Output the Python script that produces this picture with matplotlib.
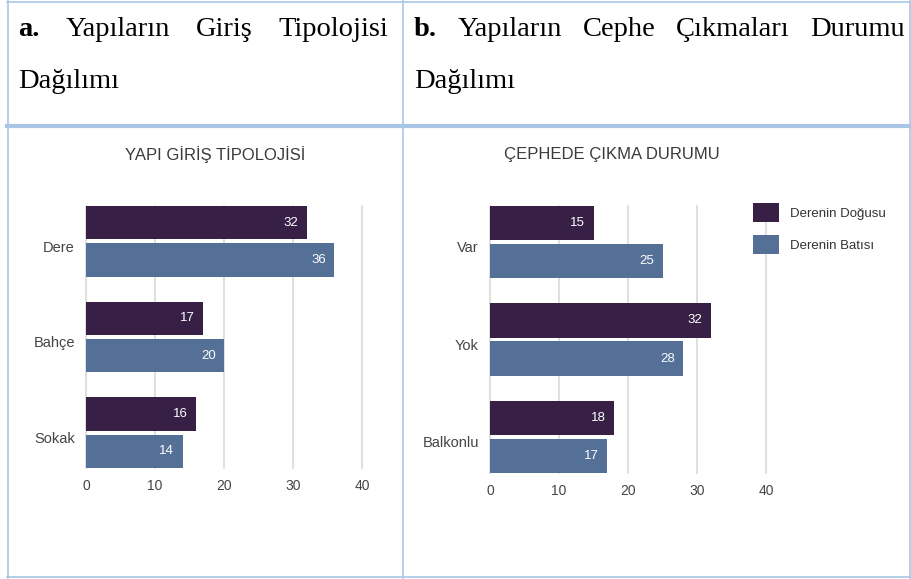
import matplotlib
matplotlib.use('Agg')
import matplotlib.pyplot as plt
from matplotlib.lines import Line2D
import numpy as np

# ---------------- data ----------------
categories_a = ['Dere', 'Bahçe', 'Sokak']
east_a = [32, 17, 16]
west_a = [36, 20, 14]
categories_b = ['Var', 'Yok', 'Balkonlu']
east_b = [15, 32, 18]
west_b = [25, 28, 17]
series_names = ['Derenin Doğusu', 'Derenin Batısı']
x_ticks = [0, 10, 20, 30, 40]
title_a = 'YAPI GİRİŞ TİPOLOJİSİ'
title_b = 'ÇEPHEDE ÇIKMA DURUMU'
header_a = ['a.', 'Yapıların', 'Giriş', 'Tipolojisi']
header_b = ['b.', 'Yapıların', 'Cephe', 'Çıkmaları', 'Durumu']
header_line2 = 'Dağılımı'

# ---------------- style ----------------
W, H = 911, 579
DARK = '#371f45'
BLUE = '#547096'
GRID = '#dadada'
BORDER = '#a9c6e6'
SANS = 'Liberation Sans'
SERIF = 'Liberation Serif'

fig = plt.figure(figsize=(W / 100, H / 100), dpi=100)


def fx(x):
    return x / W


def fy(y):
    return 1 - y / H


def hline(x0, x1, y, lw):
    fig.add_artist(Line2D([fx(x0), fx(x1)], [fy(y), fy(y)], color=BORDER, lw=lw,
                          transform=fig.transFigure))


def vline(x, y0, y1, lw):
    fig.add_artist(Line2D([fx(x), fx(x)], [fy(y0), fy(y1)], color=BORDER, lw=lw,
                          transform=fig.transFigure))


# table borders
hline(7, 910, 1.5, 1.2)
hline(7, 910, 125.5, 3.0)
hline(7, 910, 577, 1.2)
vline(7.5, 1, 578, 1.2)
vline(403, 1, 578, 1.2)
vline(909.5, 1, 578, 1.2)

# header text (justified first line)
renderer = fig.canvas.get_renderer()
HFS = 20.5


def justified(words, x0, x1, ybase):
    texts = []
    for i, wd in enumerate(words):
        t = fig.text(0, fy(ybase), wd, fontsize=HFS, family=SERIF,
                     fontweight='bold' if i == 0 else 'normal', va='baseline', ha='left',
                     color='black')
        texts.append(t)
    widths = [t.get_window_extent(renderer).width for t in texts]
    gap = (x1 - x0 - sum(widths)) / (len(words) - 1)
    x = x0
    for t, w in zip(texts, widths):
        t.set_x(fx(x))
        x += w + gap


justified(header_a, 18, 388, 36)
justified(header_b, 414, 905, 36)
fig.text(fx(18), fy(88), header_line2, fontsize=HFS, family=SERIF, va='baseline', ha='left')
fig.text(fx(414), fy(88), header_line2, fontsize=HFS, family=SERIF, va='baseline', ha='left')


def chart(l, t, r, b, cats, east, west, title, tx):
    ax = fig.add_axes([fx(l), fy(b), fx(r - l), (b - t) / H])
    y = np.arange(len(cats))
    h, off = 0.35, 0.195
    b1 = ax.barh(y - off, east, height=h, color=DARK, zorder=3)
    b2 = ax.barh(y + off, west, height=h, color=BLUE, zorder=3)
    for bars, vals in ((b1, east), (b2, west)):
        for rect, v in zip(bars, vals):
            ax.annotate(str(v), (v, rect.get_y() + rect.get_height() / 2), xytext=(-6, 0),
                        textcoords='offset points', ha='right', va='center',
                        color='white', fontsize=9.5, family=SANS, zorder=4)
    ax.set_xlim(0, 40)
    ax.set_ylim(len(cats) - 1 + 0.37, -0.37)
    ax.set_xticks(x_ticks)
    ax.set_yticks(y + 0.05, cats)
    ax.grid(axis='x', color=GRID, lw=1.2, zorder=0)
    for gl in ax.get_xgridlines():
        gl.set_clip_on(False)
    ax.set_axisbelow(True)
    for s in ax.spines.values():
        s.set_visible(False)
    ax.tick_params(axis='both', length=0, labelcolor='#444444')
    ax.tick_params(axis='x', pad=8, labelsize=10)
    ax.tick_params(axis='y', pad=8, labelsize=10.5)
    for lab in ax.get_xticklabels() + ax.get_yticklabels():
        lab.set_family(SANS)
    ax.set_facecolor('none')
    fig.text(fx(tx), fy(155), title, ha='center', va='center', fontsize=12,
             family=SANS, color='#3a3a3a')
    return b1, b2


chart(86, 206, 362, 468, categories_a, east_a, west_a, title_a, 215)
b1, b2 = chart(490, 206, 766, 473, categories_b, east_b, west_b, title_b, 612)

fig.legend([b1, b2], series_names, loc='upper left', bbox_to_anchor=(fx(753), fy(203)),
           frameon=False, prop={'family': SANS, 'size': 9.5}, handlelength=1.95,
           handleheight=1.85, labelspacing=1.0, handletextpad=0.85, borderpad=0,
           borderaxespad=0, labelcolor='#333333')

fig.savefig('out.png', dpi=100)
